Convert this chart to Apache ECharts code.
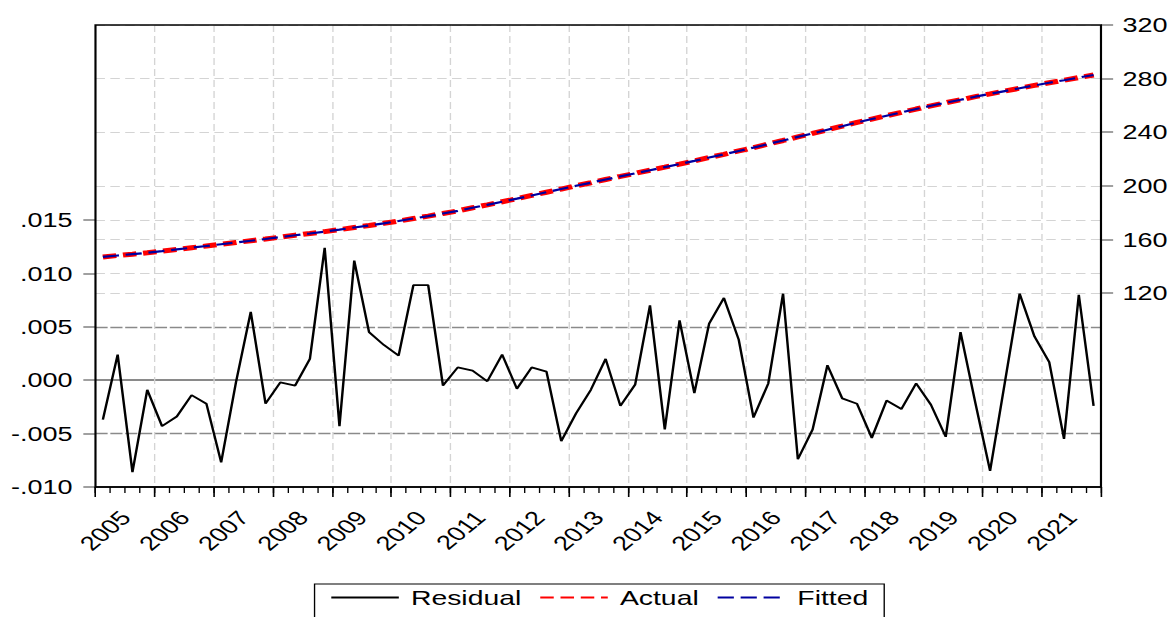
<!DOCTYPE html>
<html>
<head>
<meta charset="utf-8">
<script src="https://cdn.jsdelivr.net/npm/echarts@6/dist/echarts.min.js"></script>
<style>
  html, body { margin: 0; padding: 0; background: #fff; overflow: hidden; }
  #wrap { width: 1175px; height: 617px; overflow: hidden; }
  /* the graph is laid out in a narrower box and widened, giving the broad lettering of the original output */
  #chart { width: 870px; height: 617px; transform-origin: 0 0; transform: scaleX(1.35057); }
</style>
</head>
<body>
<div id="wrap"><div id="chart"></div></div>
<script>
// ---- data -------------------------------------------------------------
const years = ['2005','2006','2007','2008','2009','2010','2011','2012','2013',
               '2014','2015','2016','2017','2018','2019','2020','2021'];

// quarterly residuals, 2005Q1 .. 2021Q4
const residual = [
  -0.0037, 0.0024, -0.0086, -0.0009, -0.0043, -0.0034, -0.0014, -0.0022,
  -0.0077, -0.0002, 0.0064, -0.0022, -0.0002, -0.0005, 0.0020, 0.0124,
  -0.0043, 0.0112, 0.0045, 0.0033, 0.0023, 0.0089, 0.0089, -0.0005,
  0.0012, 0.0009, -0.0001, 0.0024, -0.0008, 0.0012, 0.0008, -0.0057,
  -0.0031, -0.0009, 0.0020, -0.0024, -0.0004, 0.0070, -0.0046, 0.0056,
  -0.0012, 0.0053, 0.0077, 0.0038, -0.0035, -0.0003, 0.0081, -0.0074,
  -0.0046, 0.0014, -0.0017, -0.0022, -0.0054, -0.0019, -0.0027, -0.0003,
  -0.0023, -0.0053, 0.0045, -0.0021, -0.0085, -0.0002, 0.0081, 0.0041,
  0.0017, -0.0055, 0.0080, -0.0024
];

const actual = [
  146.8963, 148.0024, 148.9914, 149.9991, 151.1957, 152.4966, 153.7986, 155.0978,
  156.3923, 157.6998, 159.0064, 160.2978, 161.6998, 163.0995, 164.4020, 165.8124,
  167.2957, 168.9112, 170.4045, 172.0033, 173.7023, 175.6089, 177.4089, 179.2995,
  181.3012, 183.6009, 185.7999, 188.1024, 190.3992, 192.8012, 195.2008, 197.5943,
  199.9969, 202.2991, 204.7020, 206.9976, 209.2996, 211.6070, 213.8954, 216.2056,
  218.5988, 221.1053, 223.5077, 226.0038, 228.4965, 231.1997, 233.8081, 236.4926,
  239.0954, 241.8014, 244.4983, 247.2978, 249.7946, 252.2981, 254.7973, 257.2997,
  259.6977, 261.9947, 264.2045, 266.4979, 268.5915, 270.6998, 272.8081, 274.9041,
  276.9017, 278.7945, 280.8080, 282.6976
];

const fitted = [
  146.9, 148.0, 149.0, 150.0, 151.2, 152.5, 153.8, 155.1,
  156.4, 157.7, 159.0, 160.3, 161.7, 163.1, 164.4, 165.8,
  167.3, 168.9, 170.4, 172.0, 173.7, 175.6, 177.4, 179.3,
  181.3, 183.6, 185.8, 188.1, 190.4, 192.8, 195.2, 197.6,
  200.0, 202.3, 204.7, 207.0, 209.3, 211.6, 213.9, 216.2,
  218.6, 221.1, 223.5, 226.0, 228.5, 231.2, 233.8, 236.5,
  239.1, 241.8, 244.5, 247.3, 249.8, 252.3, 254.8, 257.3,
  259.7, 262.0, 264.2, 266.5, 268.6, 270.7, 272.8, 274.9,
  276.9, 278.8, 280.8, 282.7
];

// tick labels
const residualTicks = [-0.010, -0.005, 0.000, 0.005, 0.010, 0.015];
const levelTicks = [120, 160, 200, 240, 280, 320];

// reference levels on the residual scale
const lightLevels = [0.015, 0.010];
const darkLevels = [0.005, -0.005];
const zeroLevel = [0.000];

// ---- categories -------------------------------------------------------
const quarters = [];
years.forEach(y => { for (let q = 1; q <= 4; q++) quarters.push(y + 'Q' + q); });

// ---- styling ----------------------------------------------------------
const FONT = '"Liberation Sans", Arial, Helvetica, sans-serif';
const LIGHT_GRID = '#d4d4d4';
const DARK_GRID = '#8a8a8a';
const RESID_MIN = -0.010, RESID_MAX = 0.03326;

const fmtResid = v => {
  const s = Math.abs(v).toFixed(3).replace(/^0/, '');
  return (v < -1e-9 ? '-' : '') + s;
};

const gridLeft = 70.7, gridRight = 54.8;
const yearStart = (i) => i % 4 === 0 && i > 0;

// extra residual-scale axis whose only job is to draw grid lines at given levels
const levelAxis = (levels, style) => ({
  gridIndex: 0, type: 'value', min: RESID_MIN, max: RESID_MAX, position: 'left',
  axisLine: { show: false, onZero: false },
  axisTick: { show: false, customValues: levels },
  axisLabel: { show: false, customValues: levels },
  splitLine: { show: true, customValues: levels, lineStyle: style }
});

const option = {
  backgroundColor: '#ffffff',
  animation: false,
  grid: [
    { left: gridLeft, right: gridRight, top: 25, bottom: 130, z: 3,
      show: true, borderColor: '#000', borderWidth: 1.6, backgroundColor: 'transparent' },
    { left: gridLeft, right: gridRight, top: 25, bottom: 324 }
  ],
  xAxis: [
    { // quarter ticks
      gridIndex: 0, type: 'category', data: quarters, boundaryGap: true, position: 'bottom',
      axisLine: { show: true, onZero: false, lineStyle: { color: '#000', width: 1.6 } },
      axisTick: { show: true, interval: 0, length: 6, lineStyle: { color: '#000', width: 1 } },
      axisLabel: { show: false }, splitLine: { show: false }
    },
    { // year ticks and vertical grid
      gridIndex: 0, type: 'category', data: quarters, boundaryGap: true, position: 'bottom',
      axisLine: { show: false, onZero: false },
      axisTick: { show: true, interval: (i) => i % 4 === 0, length: 10, lineStyle: { color: '#000', width: 1.2 } },
      axisLabel: { show: false },
      splitLine: { show: true, interval: yearStart,
                   lineStyle: { color: LIGHT_GRID, type: [7, 4], width: 1 } }
    },
    { // year labels
      gridIndex: 0, type: 'category', data: years, boundaryGap: true, position: 'bottom',
      axisLine: { show: false, onZero: false }, axisTick: { show: false }, splitLine: { show: false },
      axisLabel: { interval: 0, rotate: 48, margin: 27, fontSize: 20, color: '#000', fontFamily: FONT }
    },
    { gridIndex: 1, type: 'category', data: quarters, boundaryGap: true, show: false,
      axisLine: { onZero: false } }
  ],
  yAxis: [
    {
      gridIndex: 0, type: 'value', min: RESID_MIN, max: RESID_MAX, position: 'left',
      axisLine: { show: false, onZero: false },
      axisTick: { show: true, customValues: residualTicks, length: 9, lineStyle: { color: '#808080', width: 1.5 } },
      axisLabel: { customValues: residualTicks, formatter: fmtResid, margin: 17,
                   fontSize: 20, color: '#000', fontFamily: FONT },
      splitLine: { show: false }
    },
    {
      gridIndex: 1, type: 'value', min: levelTicks[0], max: levelTicks[levelTicks.length - 1],
      interval: 40, position: 'right',
      axisLine: { show: false, onZero: false },
      axisTick: { show: true, length: 9, lineStyle: { color: '#808080', width: 1.5 } },
      axisLabel: { margin: 16, fontSize: 20, color: '#000', fontFamily: FONT },
      splitLine: { show: true, lineStyle: { color: LIGHT_GRID, type: [7, 4], width: 1 } }
    },
    levelAxis(lightLevels, { color: LIGHT_GRID, type: [7, 4], width: 1 }),
    levelAxis(darkLevels, { color: DARK_GRID, type: [9, 2], width: 1.3 }),
    levelAxis(zeroLevel, { color: DARK_GRID, type: 'solid', width: 1.8 })
  ],
  legend: {
    data: ['Residual', 'Actual', 'Fitted'],
    left: 232.9, top: 584, orient: 'horizontal',
    itemWidth: 50, itemHeight: 14, itemGap: 13,
    padding: [3, 11.8, 30, 11.4],
    borderColor: '#000', borderWidth: 1,
    itemStyle: { opacity: 0 },
    textStyle: { fontSize: 21, color: '#000', fontFamily: FONT, padding: [0, 0, 0, 4] }
  },
  series: [
    {
      name: 'Residual', type: 'line', xAxisIndex: 0, yAxisIndex: 0,
      data: residual, symbol: 'none', z: 5,
      lineStyle: { color: '#000', width: 1.8 },
      itemStyle: { color: '#000' }
    },
    {
      name: 'Actual', type: 'line', xAxisIndex: 3, yAxisIndex: 1,
      data: actual, symbol: 'none', z: 6,
      lineStyle: { color: '#ff0000', width: 5, type: [10, 5] },
      itemStyle: { color: '#ff0000' }
    },
    {
      name: 'Fitted', type: 'line', xAxisIndex: 3, yAxisIndex: 1,
      data: fitted, symbol: 'none', z: 7,
      lineStyle: { color: '#0000a0', width: 2.2, type: [12, 5] },
      itemStyle: { color: '#0000a0' }
    }
  ]
};

const chart = echarts.init(document.getElementById('chart'), null, { renderer: 'svg' });
chart.setOption(option);
</script>
</body>
</html>
